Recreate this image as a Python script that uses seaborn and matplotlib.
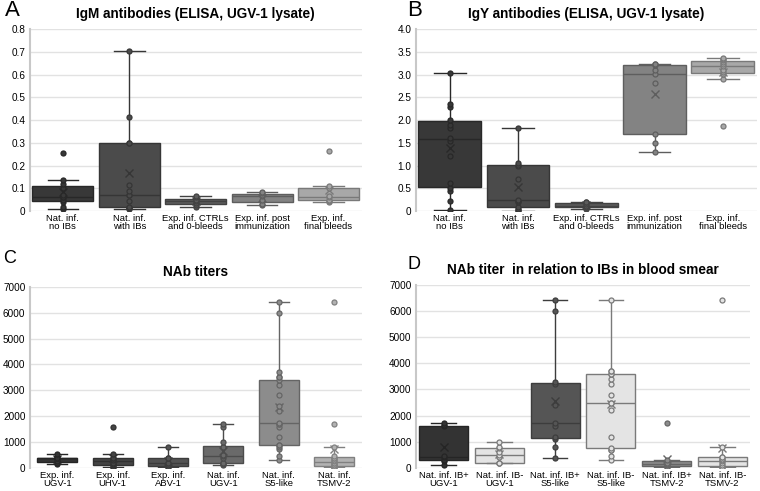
import numpy as np
import pandas as pd
import matplotlib
matplotlib.use('Agg')
import matplotlib.pyplot as plt
import seaborn as sns
from matplotlib.ticker import FuncFormatter

# --- Painel A: IgM (ELISA, UGV-1 lysate)
cats_ab = ['Nat. inf.\nno IBs', 'Nat. inf.\nwith IBs', 'Exp. inf. CTRLs\nand 0-bleeds',
           'Exp. inf. post\nimmunization', 'Exp. inf.\nfinal bleeds']
igm_no_ibs = [0.01, 0.02, 0.04, 0.05, 0.06, 0.06, 0.07, 0.10, 0.12, 0.135, 0.255]
igm_with_ibs = [0.01, 0.012, 0.015, 0.018, 0.045, 0.07, 0.07, 0.09, 0.115, 0.30, 0.30, 0.415, 0.705]
igm_ctrl = [0.02, 0.025, 0.035, 0.045, 0.05, 0.06, 0.068]
igm_post = [0.025, 0.032, 0.05, 0.065, 0.07, 0.078, 0.082]
igm_final = [0.04, 0.045, 0.05, 0.06, 0.065, 0.10, 0.11, 0.262]

# --- Painel B: IgY (ELISA, UGV-1 lysate)
igy_no_ibs = [0.03, 0.22, 0.45, 0.5, 0.62, 1.2, 1.55, 1.6, 1.82, 1.9, 2.0, 2.28, 2.35, 3.03]
igy_with_ibs = [0.01, 0.03, 0.05, 0.1, 0.2, 0.22, 0.25, 0.7, 1.0, 1.02, 1.05, 1.83]
igy_ctrl = [0.05, 0.08, 0.1, 0.12, 0.15, 0.2, 0.21]
igy_post = [1.3, 1.5, 1.7, 2.82, 3.02, 3.1, 3.2, 3.22, 3.22]
igy_final = [1.88, 2.9, 3.02, 3.05, 3.1, 3.18, 3.22, 3.28, 3.32, 3.35, 3.37]

# --- Painel C: NAb titers
cats_c = ['Exp. inf.\nUGV-1', 'Exp. inf.\nUHV-1', 'Exp. inf.\nABV-1',
          'Nat. inf.\nUGV-1', 'Nat. inf.\nS5-like', 'Nat. inf.\nTSMV-2']
nab_exp_ugv = [150, 200, 250, 400, 400, 400, 520]
nab_exp_uhv = [25, 50, 100, 150, 200, 300, 400, 400, 520, 1600]
nab_exp_abv = [25, 50, 100, 200, 200, 400, 400, 820]
nab_nat_ugv = [100, 150, 200, 200, 400, 450, 500, 800, 820, 1000, 1600, 1700]
nab_nat_s5 = [300, 450, 750, 800, 900, 900, 1200, 1600, 1700, 1700, 1750, 2200, 2400,
              2800, 3200, 3400, 3500, 3500, 3700, 6000, 6400]
nab_nat_tsmv = [20, 25, 30, 50, 100, 100, 200, 200, 250, 300, 400, 400, 450, 820, 1700, 6400]

# --- Painel D: NAb titer vs IBs in blood smear
cats_d = ['Nat. inf. IB+\nUGV-1', 'Nat. inf. IB-\nUGV-1', 'Nat. inf. IB+\nS5-like',
          'Nat. inf. IB-\nS5-like', 'Nat. inf. IB+\nTSMV-2', 'Nat. inf. IB-\nTSMV-2']
d_ugv_pos = [100, 250, 300, 400, 450, 1600, 1650, 1700]
d_ugv_neg = [200, 200, 200, 400, 500, 600, 750, 800, 1000]
d_s5_pos = [380, 800, 1100, 1200, 1600, 1700, 2400, 3200, 3300, 6000, 6400]
d_s5_neg = [300, 450, 700, 700, 750, 1200, 2200, 2500, 2500, 2800, 3200, 3400,
            3600, 3600, 3700, 3700, 6400]
d_tsmv_pos = [20, 50, 100, 150, 200, 300, 1700]
d_tsmv_neg = [20, 25, 30, 100, 200, 250, 300, 350, 400, 400, 800, 6400]

cores_ab = ['#383838', '#4b4b4b', '#5c5c5c', '#838383', '#a8a8a8']
cores_c = ['#333333', '#444444', '#535353', '#6a6a6a', '#8c8c8c', '#b2b2b2']
cores_d = ['#333333', '#e4e4e4', '#555555', '#e4e4e4', '#8c8c8c', '#e4e4e4']

plt.rcParams['font.family'] = ['Liberation Sans', 'DejaVu Sans']


def escurecer(cor, f=0.72):
    r, g, b = matplotlib.colors.to_rgb(cor)
    return (r * f, g * f, b * f)


def painel(fig, pos, cats, grupos, cores, ylim, ystep, titulo, largura):
    ax = fig.add_axes(pos)
    df = pd.DataFrame({'grupo': np.repeat(cats, [len(g) for g in grupos]),
                       'valor': np.concatenate(grupos)})
    for cat, cor in zip(cats, cores):
        sub = df[df['grupo'] == cat]
        borda = '#7a7a7a' if cor == '#e4e4e4' else escurecer(cor)
        sns.boxplot(data=sub, x='grupo', y='valor', order=cats, color=cor, saturation=1,
                    width=largura, whis=2.0, showfliers=False, linecolor=borda, linewidth=1,
                    showmeans=True,
                    meanprops=dict(marker='x', markeredgecolor=borda, markersize=6, markeredgewidth=1),
                    ax=ax)
        sns.stripplot(data=sub, x='grupo', y='valor', order=cats, jitter=False, color=cor,
                      edgecolor=borda, linewidth=0.9, size=3.6, ax=ax)
    ax.set_ylim(*ylim)
    ax.set_yticks(np.arange(ylim[0], ylim[1] + ystep / 2, ystep))
    if ystep < 1:
        ax.yaxis.set_major_formatter(FuncFormatter(lambda v, p: '0' if v == 0 else f'{v:.1f}'))
    else:
        ax.yaxis.set_major_formatter(FuncFormatter(lambda v, p: f'{v:.0f}'))
    ax.set_xlim(-0.5, len(cats) - 0.5)
    ax.grid(axis='y', color='#e2e2e2', linewidth=1)
    ax.set_axisbelow(True)
    for s in ['top', 'right', 'bottom']:
        ax.spines[s].set_visible(False)
    ax.spines['left'].set_color('#c8c8c8')
    ax.spines['left'].set_linewidth(1.5)
    ax.tick_params(length=0, labelsize=7.2, pad=3)
    ax.tick_params(axis='x', labelsize=6.8, pad=2)
    for t in ax.get_xticklabels():
        t.set_linespacing(0.85)
    ax.set_xlabel('')
    ax.set_ylabel('')
    ax.set_title(titulo, fontsize=9.8, fontweight='bold', pad=8)
    return ax


fig = plt.figure(figsize=(7.6, 4.91), dpi=100)

painel(fig, [0.039, 0.570, 0.437, 0.371], cats_ab,
       [igm_no_ibs, igm_with_ibs, igm_ctrl, igm_post, igm_final], cores_ab,
       (0, 0.8), 0.1, 'IgM antibodies (ELISA, UGV-1 lysate)', 0.92)
painel(fig, [0.547, 0.570, 0.449, 0.371], cats_ab,
       [igy_no_ibs, igy_with_ibs, igy_ctrl, igy_post, igy_final], cores_ab,
       (0, 4.0), 0.5, 'IgY antibodies (ELISA, UGV-1 lysate)', 0.92)
painel(fig, [0.039, 0.047, 0.437, 0.369], cats_c,
       [nab_exp_ugv, nab_exp_uhv, nab_exp_abv, nab_nat_ugv, nab_nat_s5, nab_nat_tsmv], cores_c,
       (0, 7000), 1000, 'NAb titers', 0.72)
painel(fig, [0.547, 0.047, 0.440, 0.373], cats_d,
       [d_ugv_pos, d_ugv_neg, d_s5_pos, d_s5_neg, d_tsmv_pos, d_tsmv_neg], cores_d,
       (0, 7000), 1000, 'NAb titer  in relation to IBs in blood smear', 0.88)

# letras dos paineis
fig.text(0.006, 1.0, 'A', fontsize=16, va='top')
fig.text(0.536, 1.0, 'B', fontsize=16, va='top')
fig.text(0.004, 0.49, 'C', fontsize=13, va='top')
fig.text(0.536, 0.479, 'D', fontsize=13, va='top')

plt.savefig('out.png', dpi=100)
